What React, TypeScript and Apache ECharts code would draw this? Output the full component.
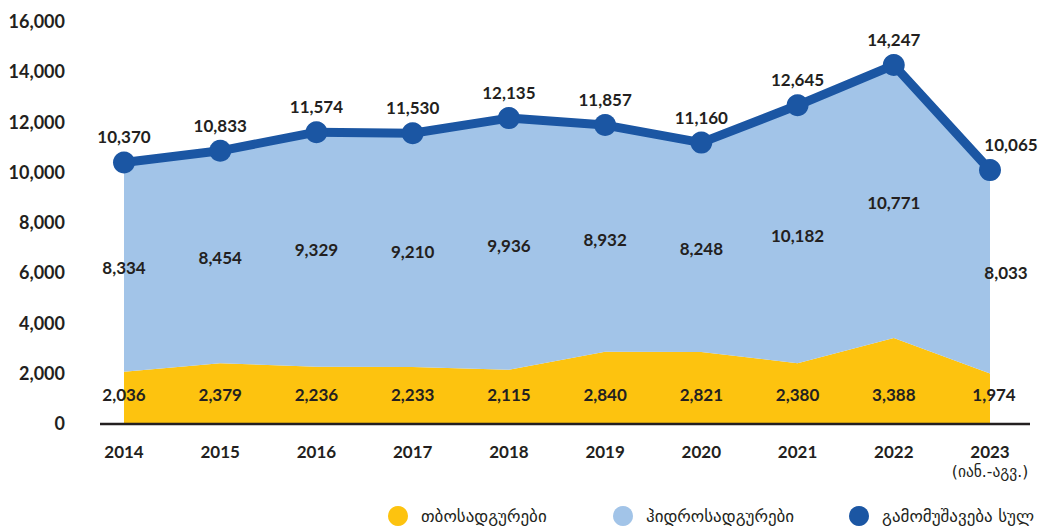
import React, { useEffect, useRef } from "react";
import * as echarts from "echarts";

const years = ["2014", "2015", "2016", "2017", "2018", "2019", "2020", "2021", "2022", "2023"];
const lastYearNote = "(იან.-აგვ.)";
const thermal = [2036, 2379, 2236, 2233, 2115, 2840, 2821, 2380, 3388, 1974];
const hydro = [8334, 8454, 9329, 9210, 9936, 8932, 8248, 10182, 10771, 8033];
const total = [10370, 10833, 11574, 11530, 12135, 11857, 11160, 12645, 14247, 10065];
const seriesNames = ["თბოსადგურები", "ჰიდროსადგურები", "გამომუშავება სულ"];
const yMin = 0;
const yMax = 16000;
const yStep = 2000;

const YELLOW = "#fdc30f";
const LIGHT = "#a2c4e8";
const DARK = "#1b56a3";
const TEXT = "#231f20";
const NUM_FONT = "Lato";
const GEO_FONT = "DejaVu Sans";

const fmt = (v: number) => v.toLocaleString("en-US");

export default function App() {
  const ref = useRef<HTMLDivElement>(null);
  useEffect(() => {
    if (!ref.current) return;
    const chart = echarts.init(ref.current, null, { renderer: "svg" });
    const last = years.length - 1;
    const numLabel = {
      color: TEXT,
      fontFamily: NUM_FONT,
      fontWeight: "bold" as const,
      fontSize: 17,
    };
    const legendBase = {
      top: 506,
      padding: 0,
      itemWidth: 36,
      itemHeight: 20,
      icon: "circle",
      textStyle: { color: TEXT, fontFamily: GEO_FONT, fontSize: 17 },
      selectedMode: false,
    };
    chart.setOption({
      animation: false,
      backgroundColor: "#ffffff",
      grid: { left: 124, right: 52, top: 21, bottom: 109, containLabel: false, outerBoundsMode: "none" },
      legend: [
        { ...legendBase, left: 388, data: [seriesNames[0]] },
        { ...legendBase, left: 613, data: [seriesNames[1]] },
        { ...legendBase, left: 849, data: [seriesNames[2]] },
      ],
      xAxis: {
        type: "category",
        boundaryGap: false,
        data: years,
        axisLine: { show: false },
        axisTick: { show: false },
        splitLine: { show: false },
        axisLabel: {
          margin: 18,
          interval: 0,
          formatter: (v: string) =>
            v === years[last] ? `{b|${v}}\n{s|${lastYearNote}}` : `{b|${v}}`,
          rich: {
            b: { ...numLabel, fontSize: 17, lineHeight: 20 },
            s: { color: TEXT, fontFamily: GEO_FONT, fontSize: 15.5, lineHeight: 22 },
          },
        },
      },
      yAxis: {
        type: "value",
        min: yMin,
        max: yMax,
        interval: yStep,
        axisLine: { show: false },
        axisTick: { show: false },
        splitLine: { show: false },
        axisLabel: { ...numLabel, fontSize: 18, margin: 59, formatter: (v: number) => fmt(v) },
      },
      series: [
        {
          name: seriesNames[0],
          type: "line",
          stack: "gen",
          data: thermal,
          symbol: "none",
          lineStyle: { width: 0 },
          itemStyle: { color: YELLOW },
          areaStyle: { color: YELLOW, opacity: 1 },
          z: 1,
        },
        {
          name: seriesNames[1],
          type: "line",
          stack: "gen",
          data: hydro,
          symbol: "none",
          lineStyle: { width: 0 },
          itemStyle: { color: LIGHT },
          areaStyle: { color: LIGHT, opacity: 1 },
          z: 1,
        },
        {
          name: seriesNames[2],
          type: "line",
          data: total.map((v, i) => (i === last ? { value: v, label: { offset: [21, 0] } } : v)),
          symbol: "circle",
          symbolSize: 22,
          lineStyle: { width: 9, color: DARK },
          itemStyle: { color: DARK },
          label: { show: true, position: "top", distance: 6, ...numLabel, formatter: (p: any) => fmt(p.value) },
          z: 5,
        },
        {
          name: "thermal-labels",
          type: "scatter",
          data: thermal.map((_, i) => (i === last ? { value: 0, label: { offset: [4, -29] } } : 0)),
          symbolSize: 0,
          silent: true,
          itemStyle: { opacity: 1 },
          label: {
            show: true,
            position: "inside",
            offset: [0, -29],
            ...numLabel,
            formatter: (p: any) => fmt(thermal[p.dataIndex]),
          },
          z: 6,
        },
        {
          name: "hydro-labels",
          type: "scatter",
          data: hydro.map((v, i) =>
            i === last ? { value: thermal[i] + v / 2, label: { offset: [16, 0] } } : thermal[i] + v / 2
          ),
          symbolSize: 0,
          silent: true,
          itemStyle: { opacity: 1 },
          label: {
            show: true,
            position: "inside",
            ...numLabel,
            formatter: (p: any) => fmt(hydro[p.dataIndex]),
          },
          z: 6,
        },
      ],
      graphic: [
        {
          type: "line",
          shape: { x1: 100, y1: 424, x2: 1030, y2: 424 },
          style: { stroke: TEXT, lineWidth: 2.5 },
          z: 10,
        },
      ],
    });
    return () => chart.dispose();
  }, []);
  return <div ref={ref} style={{ position: "fixed", left: 0, top: 0, width: 1042, height: 532 }} />;
}
